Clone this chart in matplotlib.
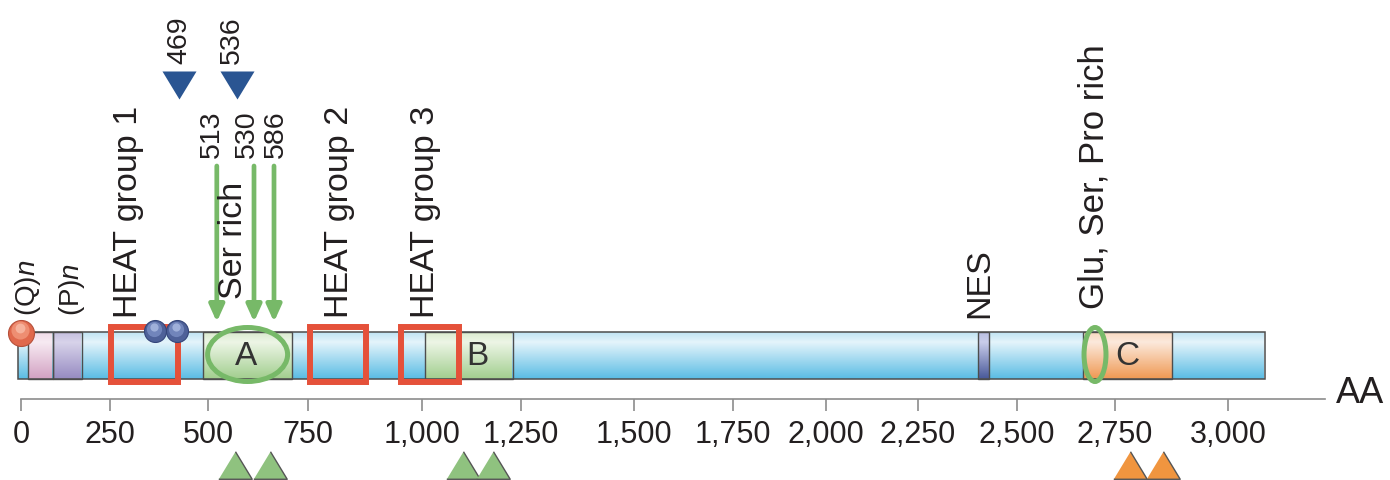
import numpy as np
import matplotlib.pyplot as plt
from matplotlib.patches import Rectangle, Ellipse
from matplotlib.colors import LinearSegmentedColormap

plt.rcParams['font.family'] = ['Liberation Sans', 'DejaVu Sans']
plt.rcParams['mathtext.fontset'] = 'custom'
plt.rcParams['mathtext.rm'] = 'Liberation Sans'
plt.rcParams['mathtext.it'] = 'Liberation Sans:italic'

# the drawing uses a schematic, not quite linear, AA axis
scale_aa = [-500, 0, 250, 500, 750, 1000, 1250, 1500, 1750, 2000, 2250, 2500, 2750, 3000, 3600]
scale_px = [-157, 21, 110, 208, 308, 422, 521, 634, 733, 826, 918, 1017, 1115, 1228, 1499]

# ---- data (amino acid positions) ----
tick_vals = list(range(0, 3001, 250))
protein_start = -8
protein_end = 3082

seg_start = [20, 90, 487, 1008, 2402, 2668]
seg_end = [90, 171, 710, 1230, 2430, 2876]
seg_kind = ["pink", "purple", "green", "green", "nes", "orange"]

domain_letters = ["A", "B", "C"]
domain_letter_pos = [595, 1141, 2777]

heat_start = [253, 754, 954]
heat_end = [423, 877, 1093]
heat_labels = ["HEAT group 1", "HEAT group 2", "HEAT group 3"]
heat_label_pos = [296, 818, 1010]

ser_ellipse_center = [599, 2699]
ser_ellipse_width = [200, 56]

polyq_pos = 0
ball_pos = [365, 421]

cleave_pos = [522, 615, 665]        # green arrows
cleave_labels = ["513", "530", "586"]
cleave_label_pos = [510, 598, 670]

casp_pos = [426, 572]               # blue triangles
casp_labels = ["469", "536"]
casp_label_pos = [426, 560]

tri_green = [567, 655, 1104, 1179]
tri_orange = [2783, 2856]

top_labels = ["(Q)$\\mathit{n}$", "(P)$\\mathit{n}$", "Ser rich", "NES", "Glu, Ser, Pro rich"]
top_label_pos = [20, 143, 565, 2407, 2696]


def fwd(x):
    return np.interp(x, scale_aa, scale_px)


def inv(p):
    return np.interp(p, scale_px, scale_aa)


def grad_cmap(top, light, bottom):
    return LinearSegmentedColormap.from_list("g", [(0, top), (0.22, light), (1, bottom)])


cmaps = {
    "bar": grad_cmap("#bfe3f3", "#e4f4fb", "#5cbde4"),
    "pink": grad_cmap("#f0dbe8", "#f7eaf2", "#d3a2c3"),
    "purple": grad_cmap("#c4bede", "#d8d3ea", "#978cc2"),
    "green": grad_cmap("#d9eacd", "#edf5e6", "#a3cf90"),
    "orange": grad_cmap("#f9d8bf", "#fce9dc", "#ef9a55"),
    "nes": grad_cmap("#b9bfe2", "#c9cdea", "#4a5a9b"),
}

txt = "#231f20"
edge = "#4d4d4d"
red = "#e5513a"
green_line = "#77b968"
bar_top, bar_bot = 333, 380

fig = plt.figure(figsize=(13.9, 4.81), dpi=100)
ax = fig.add_axes([0, 0, 1, 1])
ax.set_xscale('function', functions=(fwd, inv))

grad = np.linspace(0, 1, 80).reshape(-1, 1)

# main bar
ax.imshow(grad, extent=(protein_start, protein_end, bar_bot, bar_top), aspect='auto',
          cmap=cmaps["bar"], interpolation='bilinear', zorder=1)
for s, e, k in zip(seg_start, seg_end, seg_kind):
    ax.imshow(grad, extent=(s, e, bar_bot, bar_top), aspect='auto',
              cmap=cmaps[k], interpolation='bilinear', zorder=2)
    ax.add_patch(Rectangle((s, bar_top), e - s, bar_bot - bar_top, fill=False,
                           ec=edge, lw=1.0, zorder=3))
ax.add_patch(Rectangle((protein_start, bar_top), protein_end - protein_start, bar_bot - bar_top,
                       fill=False, ec=edge, lw=1.1, zorder=3))

for L, p in zip(domain_letters, domain_letter_pos):
    ax.text(p, 357, L, ha='center', va='center', fontsize=24, color="#333333", zorder=6)

# HEAT boxes
for s, e in zip(heat_start, heat_end):
    ax.add_patch(Rectangle((s, 328), e - s, 55, fill=False, ec=red, lw=4.3,
                           joinstyle='miter', zorder=5))

# Ser-rich ellipses
for c, w in zip(ser_ellipse_center, ser_ellipse_width):
    ax.add_patch(Ellipse((c, 355.5), w, 54, fill=False, ec=green_line, lw=3.6, zorder=5))

# polyQ sphere and blue spheres
ax.scatter([polyq_pos], [334], s=350, color="#e0684c", ec="#b5503a", lw=0.8, zorder=7)
ax.scatter([polyq_pos - 1.5], [331], s=170, color="#ee8e72", lw=0, zorder=7)
ax.scatter([polyq_pos - 2.5], [329], s=50, color="#f6b29c", lw=0, zorder=7)
ax.scatter(ball_pos, [332] * len(ball_pos), s=250, color="#4e6199", ec="#34457a", lw=0.8, zorder=7)
ax.scatter([b - 2 for b in ball_pos], [330] * len(ball_pos), s=120, color="#7185bb", lw=0, zorder=7)
ax.scatter([b - 3 for b in ball_pos], [328] * len(ball_pos), s=35, color="#9fb0da", lw=0, zorder=7)

# green arrows and labels
for p in cleave_pos:
    ax.annotate('', xy=(p, 323), xytext=(p, 167),
                arrowprops=dict(arrowstyle='-|>,head_length=1.0,head_width=0.45',
                                color=green_line, lw=3.4, shrinkA=0, shrinkB=0,
                                mutation_scale=10))
for L, p in zip(cleave_labels, cleave_label_pos):
    ax.text(p, 158, L, rotation=90, ha='center', va='bottom', fontsize=20.5, color=txt)

# blue triangles
down_tri = [(-17, 14), (17, 14), (0, -14)]
ax.scatter(casp_pos, [86] * len(casp_pos), marker=down_tri, s=600, color="#2a5592", lw=0, zorder=6)
for L, p in zip(casp_labels, casp_label_pos):
    ax.text(p, 64, L, rotation=90, ha='center', va='bottom', fontsize=20.5, color=txt)

# vertical labels
for L, p in zip(heat_labels, heat_label_pos):
    ax.text(p, 318, L, rotation=90, ha='center', va='bottom', fontsize=24.5, color=txt)
top_bottoms = [316, 316, 299, 318, 309]
top_sizes = [20, 20, 24.5, 24.5, 25]
for L, p, b, fs in zip(top_labels, top_label_pos, top_bottoms, top_sizes):
    ax.text(p, b, L, rotation=90, ha='center', va='bottom', fontsize=fs, color=txt)

# bottom triangles
up_tri = [(-17, -14), (17, -14), (0, 14)]
ax.scatter(tri_green, [466] * len(tri_green), marker=up_tri, s=580, color="#8fc27f",
           ec="#555555", lw=1.0, zorder=6)
ax.scatter(tri_orange, [466] * len(tri_orange), marker=up_tri, s=580, color="#f0953f",
           ec="#555555", lw=1.0, zorder=6)

# AA axis
for side in ['top', 'left', 'right']:
    ax.spines[side].set_visible(False)
ax.spines['bottom'].set_position(('data', 400))
ax.spines['bottom'].set_bounds(0, 3215)
ax.spines['bottom'].set_color("#8c8c8c")
ax.spines['bottom'].set_linewidth(1.2)
ax.set_xticks(tick_vals)
ax.set_xticklabels([f"{v:,}" for v in tick_vals])
ax.tick_params(axis='x', direction='out', length=8.6, width=1.2, color="#8c8c8c",
               pad=5.5, labelsize=22, labelcolor=txt)
ax.xaxis.set_minor_locator(plt.NullLocator())
ax.set_yticks([])
ax.text(3240, 394, "AA", ha='left', va='center', fontsize=26, color=txt)

ax.set_xlim(inv(0), inv(1390))
ax.set_ylim(481, 0)

fig.savefig("out.png", dpi=100)
